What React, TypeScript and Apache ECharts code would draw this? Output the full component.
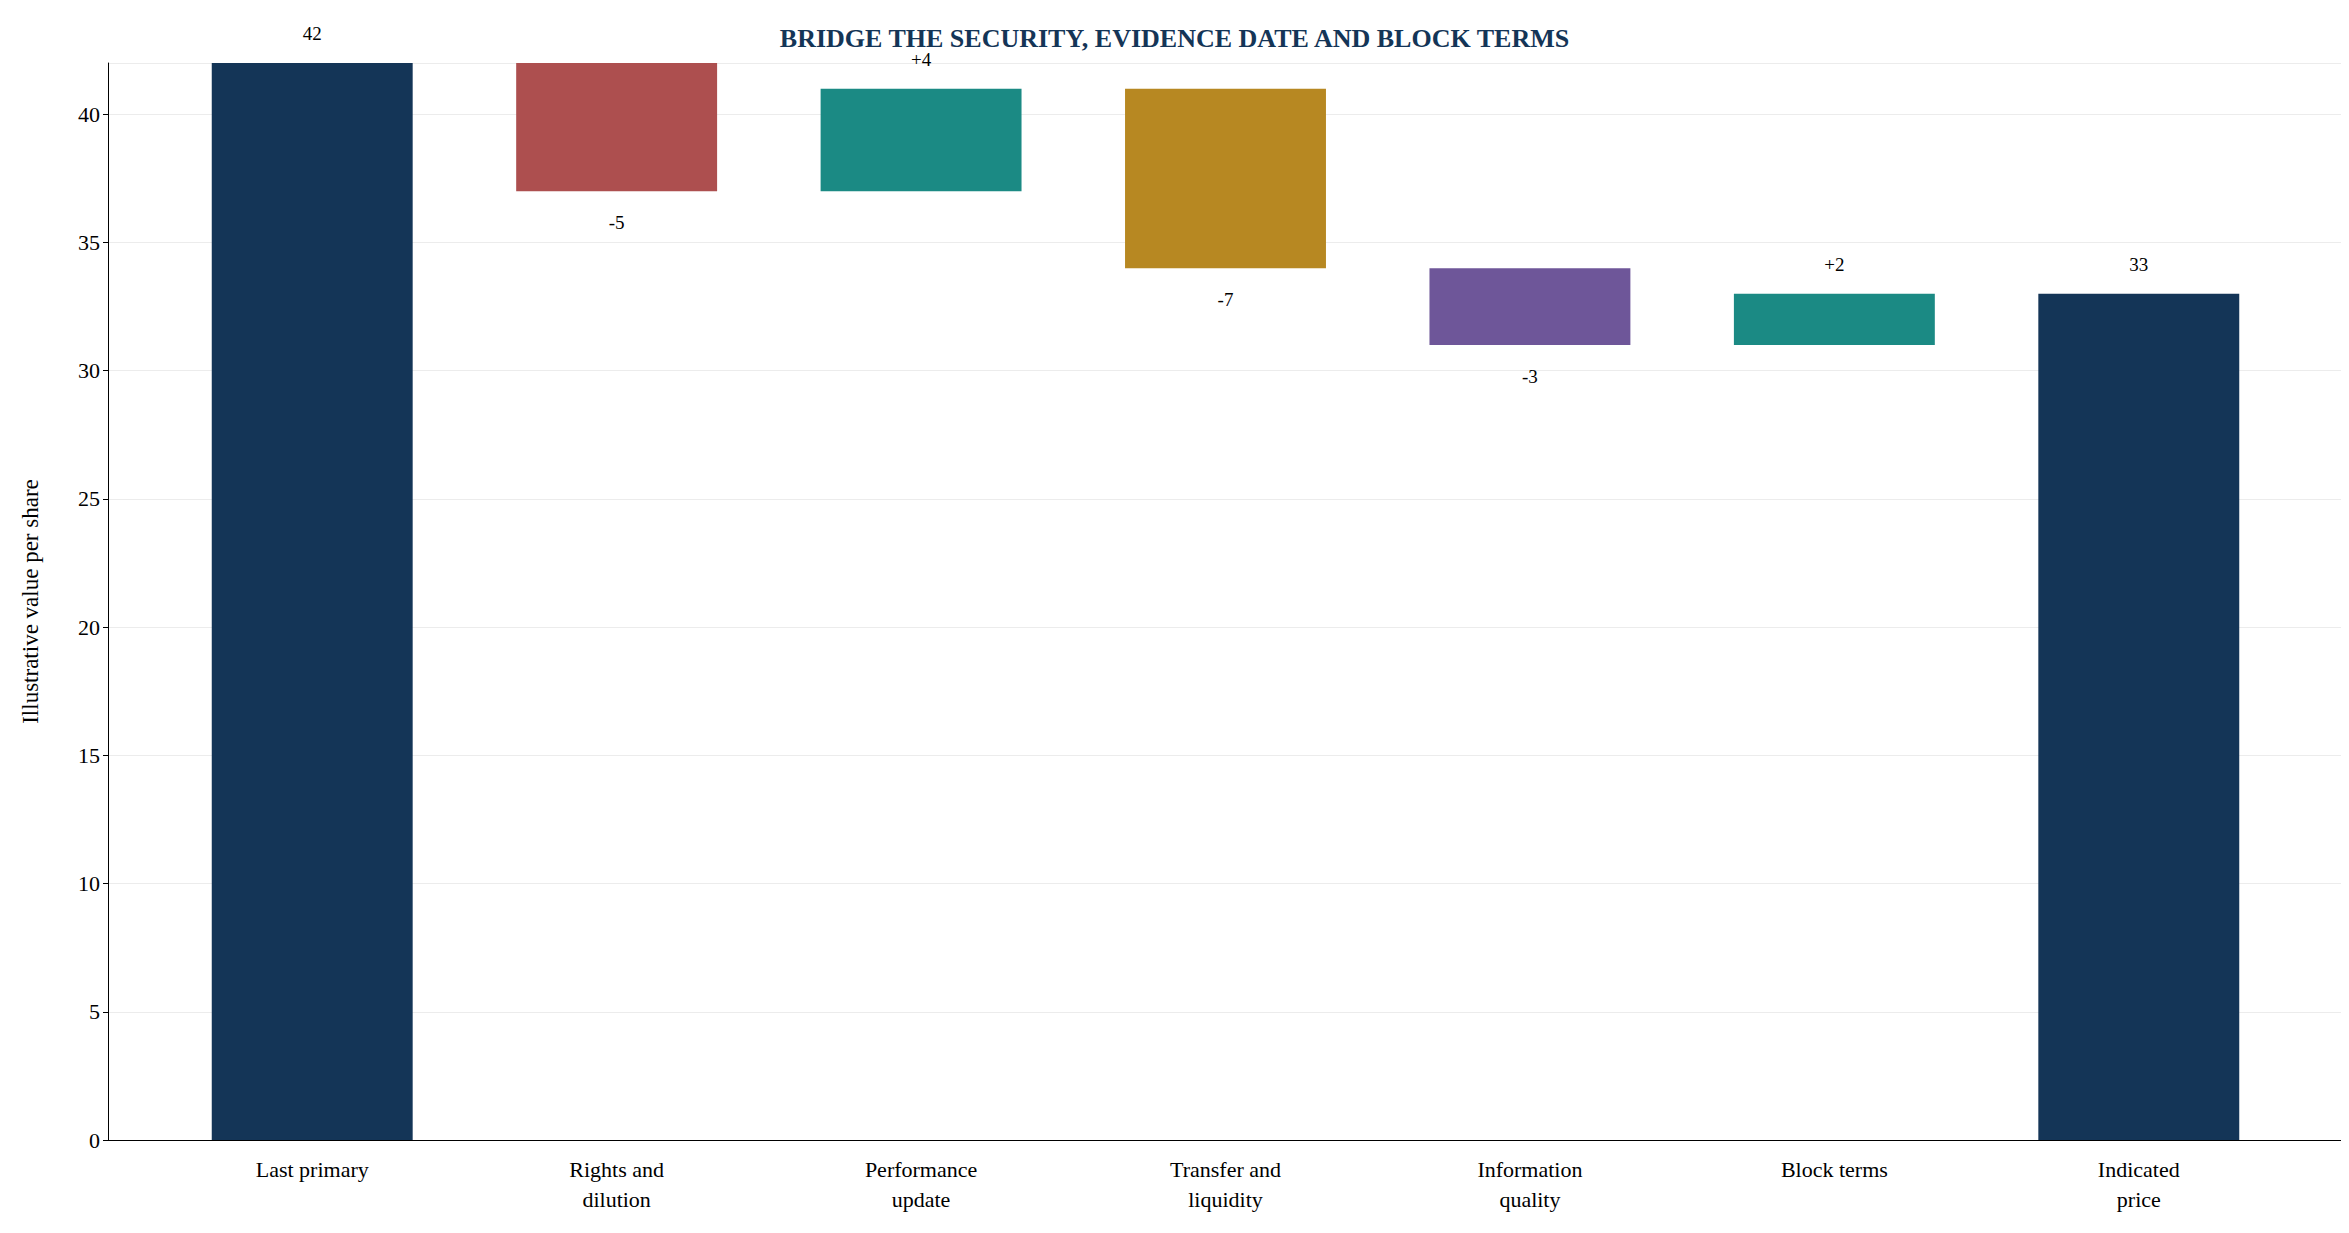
import { useRef, useEffect } from 'react';
import * as echarts from 'echarts';

const categories = ['Last primary', 'Rights and\ndilution', 'Performance\nupdate', 'Transfer and\nliquidity', 'Information\nquality', 'Block terms', 'Indicated\nprice'];
const steps = [42, -5, 4, -7, -3, 2, 33];
const isTotal = [true, false, false, false, false, false, true];
const barColors = ['#143557', '#ad4f4f', '#1b8a84', '#b78822', '#6e5699', '#1b8a84', '#143557'];

export default function App() {
  const divRef = useRef<HTMLDivElement | null>(null);

  useEffect(() => {
    if (!divRef.current) return;
    const chart = echarts.init(divRef.current, null, { renderer: 'svg' });
    const font = 'Liberation Serif, Times New Roman, serif';

    // floating bars: transparent base + visible part
    let running = 0;
    const base: number[] = [];
    const visible: any[] = [];
    steps.forEach((v, i) => {
      if (isTotal[i]) {
        base.push(0);
        running = v;
        visible.push({ value: v, itemStyle: { color: barColors[i] }, label: { position: 'top', formatter: String(v) } });
      } else {
        const next = running + v;
        base.push(Math.min(running, next));
        visible.push({
          value: Math.abs(v),
          itemStyle: { color: barColors[i] },
          label: { position: v >= 0 ? 'top' : 'bottom', distance: v >= 0 ? 20 : 22, formatter: (v > 0 ? '+' : '') + v },
        });
        running = next;
      }
    });

    chart.setOption({
      animation: false,
      textStyle: { fontFamily: font },
      title: {
        text: 'BRIDGE THE SECURITY, EVIDENCE DATE AND BLOCK TERMS',
        left: 'center',
        top: 12,
        textStyle: { fontFamily: font, fontSize: 26, fontWeight: 'bold', color: '#143557' },
      },
      grid: [
        { left: 152, right: 50, top: 55, bottom: 85 },
        { left: 100, right: 0, top: 55, bottom: 85 },
      ],
      xAxis: [
        {
          type: 'category',
          gridIndex: 0,
          data: categories,
          axisLine: { show: false },
          axisTick: { alignWithLabel: true, length: 6, lineStyle: { color: '#000' } },
          axisLabel: { color: '#000', fontSize: 22, fontFamily: font, lineHeight: 30, margin: 14 },
        },
        {
          type: 'value',
          gridIndex: 1,
          min: 0,
          max: 1,
          axisLine: { lineStyle: { color: '#000' } },
          axisTick: { show: false },
          axisLabel: { show: false },
          splitLine: { show: false },
        },
      ],
      yAxis: [
        {
          type: 'value',
          gridIndex: 0,
          min: 0,
          max: 42,
          interval: 5,
          axisLine: { show: false },
          axisTick: { show: false },
          axisLabel: { show: false },
          splitLine: { show: false },
        },
        {
          type: 'value',
          gridIndex: 1,
          min: 0,
          max: 42,
          interval: 5,
          name: 'Illustrative value per share',
          nameLocation: 'middle',
          nameGap: 66,
          nameTextStyle: { color: '#000', fontSize: 23, fontFamily: font },
          axisLine: { show: true, lineStyle: { color: '#000' } },
          axisTick: { show: true, lineStyle: { color: '#000' } },
          axisLabel: { color: '#000', fontSize: 22, fontFamily: font, showMaxLabel: false },
          splitLine: { lineStyle: { color: '#ececec' } },
        },
      ],
      series: [
        { type: 'bar', stack: 'w', xAxisIndex: 0, yAxisIndex: 0, data: base, itemStyle: { color: 'transparent' }, barWidth: '66%', silent: true },
        {
          type: 'bar',
          stack: 'w',
          xAxisIndex: 0,
          yAxisIndex: 0,
          data: visible,
          barWidth: '66%',
          label: { show: true, color: '#000', fontSize: 19, fontFamily: font, distance: 20 },
        },
      ],
    });
    return () => chart.dispose();
  }, []);

  return <div ref={divRef} style={{ width: '2333px', height: '1217px' }}></div>;
}
